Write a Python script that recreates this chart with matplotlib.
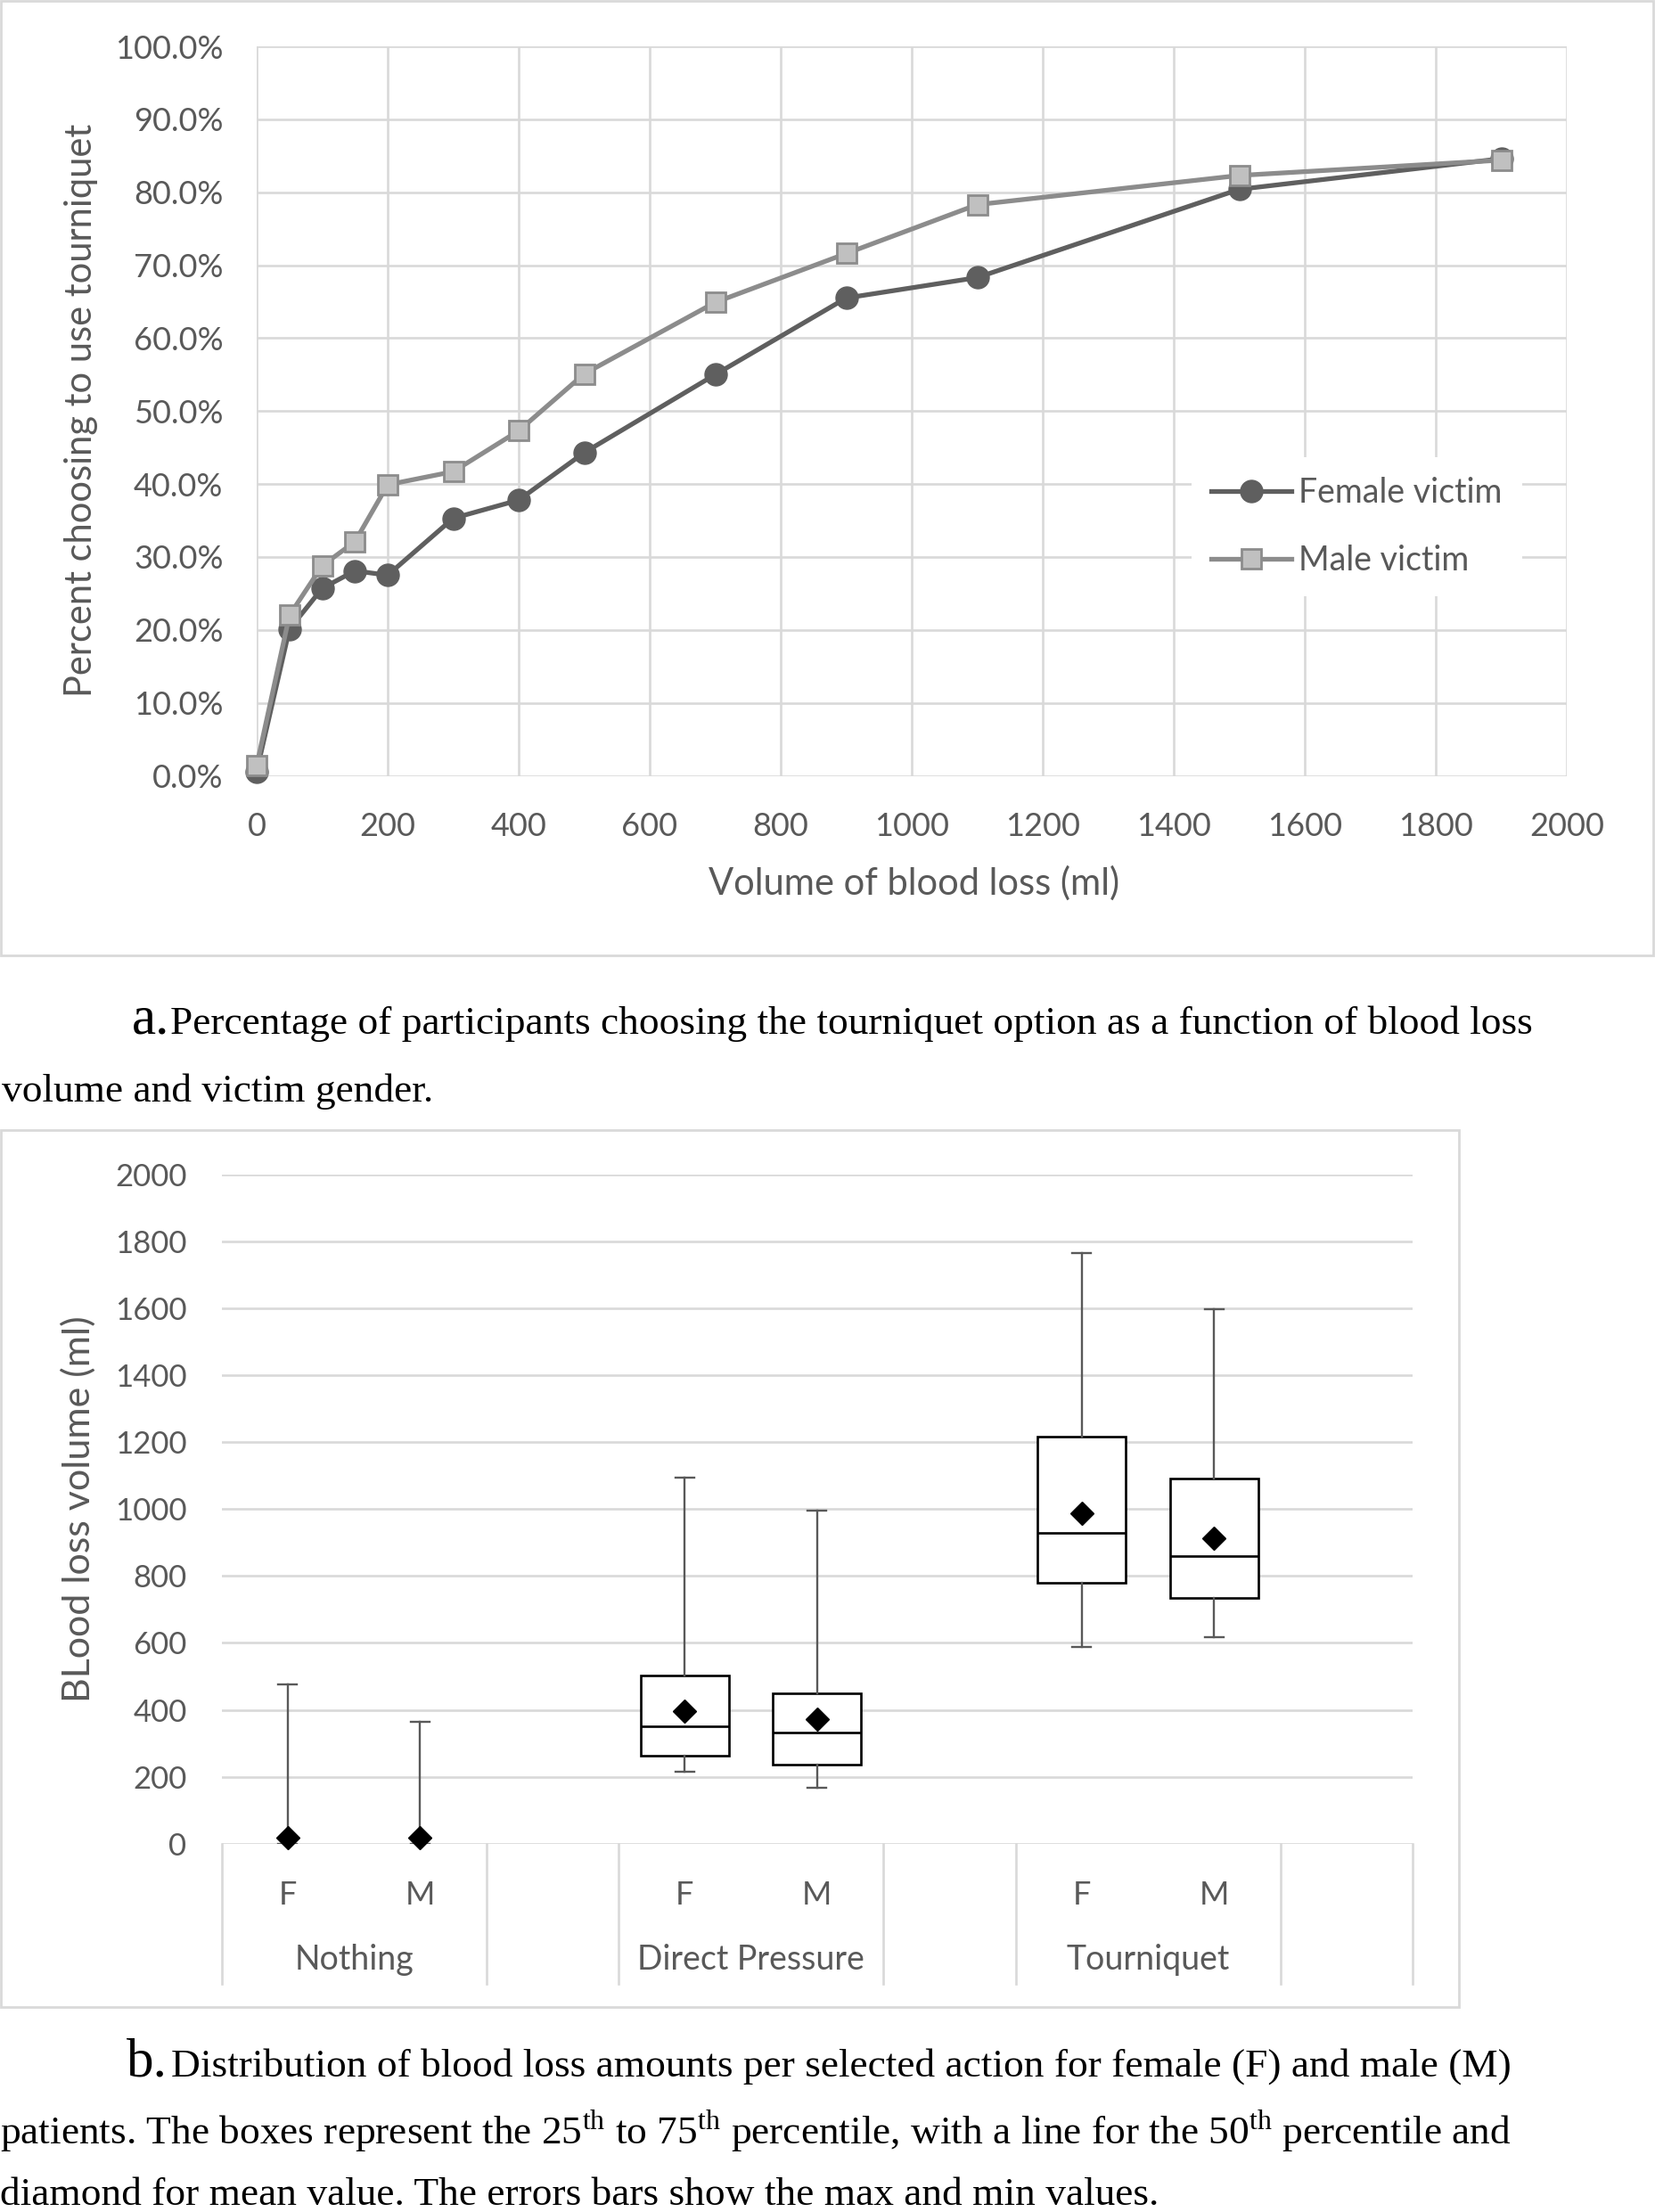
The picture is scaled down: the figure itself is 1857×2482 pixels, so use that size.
import numpy as np
import matplotlib
matplotlib.use("Agg")
import matplotlib.pyplot as plt
from matplotlib.patches import Rectangle
from matplotlib.lines import Line2D

# =========================
# data
# =========================
volumes = [0, 50, 100, 150, 200, 300, 400, 500, 700, 900, 1100, 1500, 1900]
female_pct = [0.6, 20.1, 25.7, 28.1, 27.5, 35.3, 37.8, 44.3, 55.0, 65.5, 68.3, 80.4, 84.6]
male_pct = [1.4, 22.0, 28.8, 32.1, 39.9, 41.7, 47.3, 55.1, 64.9, 71.6, 78.3, 82.3, 84.4]

actions = ["Nothing", "Direct Pressure", "Tourniquet"]
sexes = ["F", "M", "F", "M", "F", "M"]
box_min = [0, 0, 214, 168, 589, 616]
box_q1 = [0, 0, 264, 236, 780, 734]
box_med = [0, 0, 352, 331, 928, 861]
box_q3 = [0, 0, 502, 449, 1218, 1091]
box_max = [475, 365, 1093, 995, 1765, 1597]
box_mean = [17, 17, 396, 372, 987, 913]

W, H = 1857, 2482
TXT = "#595959"
GRID = "#d9d9d9"
SERIF = ["Liberation Serif", "DejaVu Serif"]
CAP = 32.7
plt.rcParams["font.family"] = ["Lato", "DejaVu Sans"]
plt.rcParams["mathtext.fontset"] = "custom"
plt.rcParams["mathtext.rm"] = "Liberation Serif"

fig = plt.figure(figsize=(W / 100, H / 100), dpi=100)


def fx(px):
    return px / W


def fy(py):
    return 1 - py / H


def axes_px(left, top, right, bottom):
    return fig.add_axes([fx(left), fy(bottom), (right - left) / W, (bottom - top) / H])


# frames around the two charts
fig.patches.append(Rectangle((fx(1), fy(1072)), fx(1854), (1071) / H, transform=fig.transFigure,
                             fill=False, edgecolor=GRID, lw=2))
fig.patches.append(Rectangle((fx(1), fy(2252)), fx(1636), (2252 - 1268) / H, transform=fig.transFigure,
                             fill=False, edgecolor=GRID, lw=2))

# =========================
# chart a: lines
# =========================
ax = axes_px(288, 52, 1758, 870.5)
ax.set_xlim(0, 2000)
ax.set_ylim(0, 100)
ax.set_xticks(np.arange(0, 2001, 200))
ax.set_yticks(np.arange(0, 101, 10))
ax.set_yticklabels([f"{v:.1f}%" for v in np.arange(0, 101, 10)])
ax.grid(True, color=GRID, lw=1.9)
ax.set_axisbelow(True)
for s in ax.spines.values():
    s.set_visible(False)
ax.tick_params(length=0, labelsize=26, labelcolor=TXT)
ax.tick_params(axis="y", pad=27)
ax.tick_params(axis="x", pad=29)

ax.plot(volumes, female_pct, color="#5f5f5f", lw=3.8, marker="o", ms=18,
        mfc="#5f5f5f", mec="#5f5f5f", clip_on=False, zorder=3, label="Female victim")
ax.plot(volumes, male_pct, color="#8c8c8c", lw=3.8, marker="s", ms=16,
        mfc="#c0c0c0", mec="#8c8c8c", mew=2, clip_on=False, zorder=4, label="Male victim")

leg = ax.legend(loc="center left", bbox_to_anchor=((1318 - 288) / 1470, (870.5 - 591) / 818.5),
                frameon=True, fontsize=27, handlelength=2.4, handletextpad=0.2,
                labelspacing=1.05, borderpad=0.6, fancybox=False)
leg.get_frame().set_facecolor("white")
leg.get_frame().set_edgecolor("none")
leg.get_frame().set_alpha(1)
for t in leg.get_texts():
    t.set_color(TXT)

fig.text(fx(91), fy(460), "Percent choosing to use tourniquet", rotation=90,
         ha="center", va="center", fontsize=30, color=TXT)
fig.text(fx(1026), fy(991), "Volume of blood loss (ml)", ha="center", va="center",
         fontsize=30, color=TXT)

# caption a
fig.text(fx(148), fy(1160), "a.", ha="left", va="baseline", fontsize=44, family=SERIF, color="black")
fig.text(fx(191), fy(1160), "Percentage of participants choosing the tourniquet option as a function of blood loss",
         ha="left", va="baseline", fontsize=CAP, family=SERIF, color="black")
fig.text(fx(2), fy(1236), "volume and victim gender.", ha="left", va="baseline", fontsize=CAP,
         family=SERIF, color="black")

# =========================
# chart b: box plots
# =========================
bx = axes_px(248.5, 1318, 1585, 2068.7)
slots = [0, 1, 3, 4, 6, 7]
stats = []
for i in range(len(sexes)):
    stats.append(dict(whislo=box_min[i], q1=box_q1[i], med=box_med[i], q3=box_q3[i],
                      whishi=box_max[i], mean=box_mean[i], fliers=[]))
res = bx.bxp(stats, positions=slots, widths=0.67, capwidths=0.14, showmeans=True,
             patch_artist=True, showfliers=False,
             boxprops=dict(facecolor="white", edgecolor="black", lw=1.9),
             medianprops=dict(color="black", lw=1.9),
             whiskerprops=dict(color=TXT, lw=1.7),
             capprops=dict(color=TXT, lw=1.7),
             meanprops=dict(marker="D", markersize=13, markerfacecolor="black",
                            markeredgecolor="black"))
# "Nothing" has only a range, no box
for i in range(2):
    res["boxes"][i].set_visible(False)
    res["medians"][i].set_visible(False)
for m in res["means"]:
    m.set_clip_on(False)
    m.set_zorder(5)

bx.set_xlim(-0.5, 8.5)
bx.set_ylim(0, 2000)
bx.set_yticks(np.arange(0, 2001, 200))
bx.yaxis.grid(True, color=GRID, lw=1.9)
bx.set_axisbelow(True)
for s in bx.spines.values():
    s.set_visible(False)
bx.set_xticks(slots)
bx.set_xticklabels(sexes)
bx.tick_params(length=0, labelsize=25, labelcolor=TXT)
bx.tick_params(axis="y", pad=28)
bx.tick_params(axis="x", pad=30)
for t in bx.get_xticklabels():
    t.set_fontsize(26)

sep_bottom = -(2226 - 2068.7) / 750.7
for xs in [-0.5, 1.5, 2.5, 4.5, 5.5, 7.5, 8.5]:
    bx.add_line(Line2D([xs, xs], [sep_bottom, 0], transform=bx.get_xaxis_transform(),
                       color=GRID, lw=1.9, clip_on=False))
for k, name in enumerate(actions):
    bx.text(3 * k + 0.5, -(2199 - 2068.7) / 750.7, name, transform=bx.get_xaxis_transform(),
            ha="center", va="center", fontsize=27, color=TXT)

fig.text(fx(88), fy(1693), "BLood loss volume (ml)", rotation=90, ha="center", va="center",
         fontsize=31, color=TXT)

# caption b
fig.text(fx(142), fy(2330), "b.", ha="left", va="baseline", fontsize=44, family=SERIF, color="black")
fig.text(fx(192), fy(2330), "Distribution of blood loss amounts per selected action for female (F) and male (M)",
         ha="left", va="baseline", fontsize=CAP, family=SERIF, color="black")
fig.text(fx(0), fy(2407),
         r"patients. The boxes represent the 25$^{\mathrm{th}}$ to 75$^{\mathrm{th}}$ percentile, "
         r"with a line for the 50$^{\mathrm{th}}$ percentile and",
         ha="left", va="baseline", fontsize=CAP, family=SERIF, color="black")
fig.text(fx(0), fy(2474), "diamond for mean value. The errors bars show the max and min values.",
         ha="left", va="baseline", fontsize=CAP, family=SERIF, color="black")

fig.savefig("out.png", dpi=100)
